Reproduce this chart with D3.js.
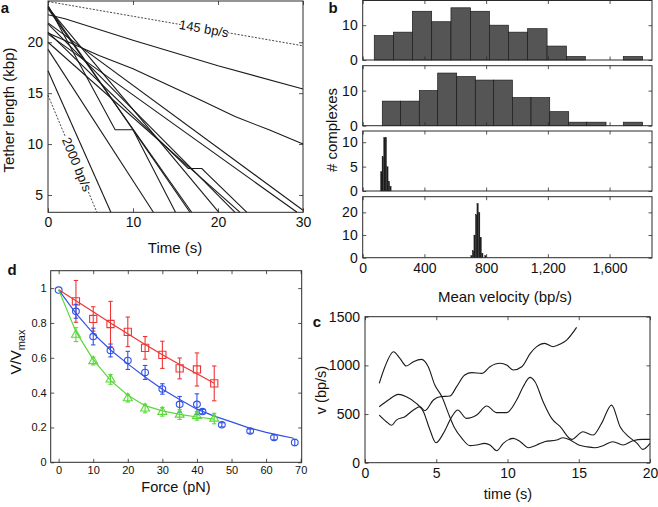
<!DOCTYPE html>
<html>
<head>
<meta charset="utf-8">
<script src="https://cdn.jsdelivr.net/npm/d3@7"></script>
<style>
body { margin: 0; background: #fff; }
svg { display: block; font-family: "Liberation Sans", Arial, sans-serif; }
</style>
</head>
<body>
<div id="fig"></div>
<script>

// ---- panel a : tether traces (time s, length kbp)
var aTimeTicks = [0, 10, 20, 30];
var aLenTicks = [5, 10, 15, 20];
var tracesA = [
    [[0, 22.7], [2, 22.3], [10, 20.2], [20, 17.7], [30, 15.4]],
    [[0, 20.9], [6, 18.7], [10, 17.4], [18, 14.3], [22, 12.7], [26, 11.4], [30, 10.0]],
    [[0, 23.5], [16.7, 3.3]],
    [[0, 23.3], [16.9, 3.3]],
    [[0, 23.6], [7.9, 11.4], [10, 11.4], [15.0, 3.3]],
    [[0, 23.4], [20.1, 3.3]],
    [[0, 19.3], [12.4, 3.3]],
    [[0, 17.2], [7.4, 3.3]],
    [[0, 21.0], [16.5, 7.6], [18.1, 7.6], [18.7, 7.1], [23.4, 3.3]],
    [[0, 21.8], [22.0, 3.3]],
    [[0, 20.0], [22.6, 3.3]],
    [[0, 20.8], [29.3, 3.3]],
    [[0, 21.9], [30, 3.5]]
];
var refLines = [
    {label: "145 bp/s", pts: [[0, 24.0], [30, 19.65]], gap: [15.6, 21.1]},
    {label: "2000 bp/s", pts: [[0, 14.8], [5.75, 3.3]], gap: [2.05, 4.75]}
];

// ---- panel b : histograms of mean velocity
var bVelTicks = [0, 400, 800, 1200, 1600];
var hist1Edges = [75, 199, 322, 447, 572, 698, 821, 944, 1069, 1195, 1320, 1443, 1566, 1689, 1814];
var hist1Counts = [7, 8, 14, 11, 15, 14, 10, 8, 9, 4, 1, 0, 0, 1];
var hist2Edges = [127, 246, 367, 486, 609, 730, 849, 970, 1091, 1212, 1335, 1452, 1577, 1689, 1814];
var hist2Counts = [7, 7, 10, 15, 14, 13, 13, 8, 8, 4, 1, 1, 0, 1];
var hist3Edges = [115, 125, 135, 145, 155, 165, 175, 185];
var hist3Counts = [4, 7, 11, 11, 5, 2, 1];
var hist4Edges = [700, 710, 720, 730, 740, 750, 760, 770, 780, 790, 800];
var hist4Counts = [1, 3, 10, 19, 24, 20, 9, 2, 0, 1];

// ---- panel d : V/Vmax vs force
var dForceTicks = [0, 10, 20, 30, 40, 50, 60, 70];
var dRatioTicks = [0, 0.2, 0.4, 0.6, 0.8, 1];
var redF = [5, 10, 15, 20, 25, 30, 35, 40, 45];
var redV = [0.924, 0.823, 0.794, 0.749, 0.657, 0.617, 0.539, 0.533, 0.453];
var redE = [0.12, 0.07, 0.13, 0.085, 0.065, 0.078, 0.06, 0.095, 0.1];
var blueF = [0, 5, 10, 15, 20, 25, 30, 35, 40, 41.6, 47.2, 55.4, 62.3, 68.3];
var blueV = [0.989, 0.867, 0.722, 0.642, 0.585, 0.516, 0.421, 0.333, 0.333, 0.291, 0.215, 0.179, 0.143, 0.114];
var blueE = [0, 0.04, 0.048, 0.037, 0.052, 0.04, 0.03, 0.045, 0.06, 0.012, 0.012, 0.012, 0.014, 0.018];
var greenF = [5, 10, 15, 20, 25, 30, 35, 40, 45];
var greenV = [0.733, 0.581, 0.476, 0.368, 0.309, 0.29, 0.274, 0.267, 0.251];
var greenE = [0.04, 0.022, 0.028, 0.022, 0.025, 0.025, 0.028, 0.025, 0.03];
var redFitF = [0, 5, 10, 15, 20, 25, 30, 35, 40, 45];
var redFitV = [0.99, 0.928, 0.864, 0.80, 0.738, 0.676, 0.617, 0.562, 0.508, 0.454];
var blueFitF = [0, 5, 10, 15, 20, 25, 30, 35, 40, 45, 50, 55, 60, 65, 68];
var blueFitV = [0.99, 0.855, 0.74, 0.645, 0.565, 0.49, 0.42, 0.36, 0.305, 0.265, 0.232, 0.198, 0.172, 0.15, 0.138];
var greenFitF = [0, 5, 10, 15, 20, 25, 30, 35, 40, 45];
var greenFitV = [0.99, 0.75, 0.59, 0.47, 0.385, 0.325, 0.295, 0.275, 0.26, 0.248];

// ---- panel c : instantaneous velocity (time s, bp/s)
var cTimeTicks = [0, 5, 10, 15, 20];
var cVelTicks = [0, 500, 1000, 1500];
var cT1 = [1.0, 1.4, 2.0, 2.45, 2.9, 3.4, 3.97, 4.44, 4.9, 5.4, 5.85, 6.3, 6.8, 7.37, 7.84, 8.4, 8.77, 9.24, 9.7, 10.4, 10.9, 11.46, 12.05, 12.6, 13.45, 13.9, 14.4, 15.0, 15.55, 16.1, 16.7, 17.4, 18.1, 18.8, 19.5, 20];
var cV1 = [815, 986, 1140, 1072, 993, 1038, 1062, 986, 798, 678, 507, 353, 250, 175, 182, 199, 182, 123, 199, 250, 216, 154, 182, 216, 233, 257, 233, 182, 164, 154, 175, 216, 182, 226, 240, 240];
var cT2 = [1.0, 1.64, 2.34, 2.9, 3.6, 4.1, 4.56, 4.98, 5.5, 6.1, 6.5, 7.13, 7.84, 8.54, 9.24, 9.94, 10.64, 11.1, 11.58, 11.93, 12.5, 13.1, 13.7, 14.5, 15.3, 16.0, 16.6, 17.3, 17.9, 18.5, 19.1, 19.5, 20];
var cV2 = [575, 644, 702, 678, 610, 524, 336, 205, 301, 473, 541, 455, 490, 582, 514, 514, 644, 781, 877, 832, 627, 455, 370, 240, 318, 284, 404, 592, 370, 267, 199, 137, 199];
var cT3 = [1.0, 1.5, 1.87, 2.2, 2.8, 3.4, 3.86, 4.2, 4.8, 5.26, 5.96, 6.43, 7.0, 7.5, 8.2, 8.77, 9.47, 9.94, 10.4, 11.0, 11.6, 12.05, 12.6, 13.2, 13.7, 14.15, 14.85];
var cV3 = [490, 421, 384, 438, 473, 541, 575, 534, 644, 678, 685, 781, 901, 925, 918, 986, 1021, 1003, 952, 986, 1123, 1192, 1226, 1192, 1219, 1260, 1390];

var W = 658, H = 507;
var ink = "#2a2a2a";

var svg = d3.select("#fig").append("svg")
    .attr("width", W)
    .attr("height", H);

// matlab style box with inward ticks on every side
function drawBox(x, y, xt, yt, opt) {
    opt = opt || {};
    var g = svg.append("g");
    var x0 = x.range()[0], x1 = x.range()[1];
    var y0 = y.range()[0], y1 = y.range()[1];
    var fs = opt.fs || 13;
    var tl = opt.tick || 4;

    var bottom = d3.axisBottom(x).tickValues(xt).tickSize(-tl).tickPadding(opt.xpad || 5)
        .tickFormat(opt.xfmt || d3.format("d"));
    if (opt.noXLabels) bottom.tickFormat("");
    g.append("g").attr("transform", "translate(0," + y0 + ")").call(bottom);
    g.append("g").attr("transform", "translate(0," + y1 + ")")
        .call(d3.axisTop(x).tickValues(xt).tickSize(-tl).tickFormat(""));

    var left = d3.axisLeft(y).tickValues(yt).tickSize(-tl).tickPadding(opt.ypad || 5)
        .tickFormat(opt.yfmt || d3.format("d"));
    g.append("g").attr("transform", "translate(" + x0 + ",0)").call(left);
    g.append("g").attr("transform", "translate(" + x1 + ",0)")
        .call(d3.axisRight(y).tickValues(yt).tickSize(-tl).tickFormat(""));

    g.selectAll(".domain").remove();
    g.selectAll(".tick line").attr("stroke", ink).attr("stroke-width", 0.8);
    g.selectAll(".tick text").attr("fill", "#111").style("font-size", fs + "px");

    svg.append("rect")
        .attr("x", x0).attr("y", y1)
        .attr("width", x1 - x0).attr("height", y0 - y1)
        .attr("fill", "none").attr("stroke", ink).attr("stroke-width", 1);
}

function label(txt, x, y, size, rot, weight) {
    var t = svg.append("text")
        .attr("transform", "translate(" + x + "," + y + ")" + (rot ? " rotate(" + rot + ")" : ""))
        .attr("text-anchor", "middle")
        .attr("fill", "#111")
        .style("font-size", size + "px")
        .text(txt);
    if (weight) t.style("font-weight", weight);
    return t;
}

// ================= panel a
var xa = d3.scaleLinear().domain([0, 30]).range([48, 303]);
var ya = d3.scaleLinear().domain([3.3, 24.05]).range([212.3, 1]);

var lineA = d3.line().x(function (d) { return xa(d[0]); }).y(function (d) { return ya(d[1]); });

svg.append("g").selectAll("path.trace")
    .data(tracesA)
    .enter()
    .append("path")
    .attr("class", "trace")
    .attr("d", lineA)
    .attr("fill", "none")
    .attr("stroke", "#1a1a1a")
    .attr("stroke-width", 1.1);

refLines.forEach(function (r) {
    var p0 = r.pts[0], p1 = r.pts[1];
    var at = function (t) { return [t, p0[1] + (p1[1] - p0[1]) * (t - p0[0]) / (p1[0] - p0[0])]; };
    [[p0, at(r.gap[0])], [at(r.gap[1]), p1]].forEach(function (seg) {
        svg.append("path")
            .attr("d", lineA(seg))
            .attr("fill", "none")
            .attr("stroke", "#333")
            .attr("stroke-width", 0.9)
            .attr("stroke-dasharray", "2,1.5");
    });
    var mid = at((r.gap[0] + r.gap[1]) / 2);
    var ang = Math.atan2(ya(p1[1]) - ya(p0[1]), xa(p1[0]) - xa(p0[0])) * 180 / Math.PI;
    svg.append("text")
        .attr("transform", "translate(" + xa(mid[0]) + "," + ya(mid[1]) + ") rotate(" + ang + ")")
        .attr("text-anchor", "middle")
        .attr("dy", "0.35em")
        .style("font-size", "13px")
        .attr("fill", "#111")
        .text(r.label);
});

drawBox(xa, ya, aTimeTicks, aLenTicks, {fs: 14});
label("Time (s)", 175, 253, 15);
label("Tether length (kbp)", 14, 110, 15, -90);
label("a", 5, 13, 15, 0, "bold");

// ================= panel b
var xb = d3.scaleLinear().domain([0, 1875]).range([362.7, 652]);
var hists = [
    {edges: hist1Edges, counts: hist1Counts, top: 0.5, bot: 60, max: 17.1, ticks: [0, 10], fill: "#555"},
    {edges: hist2Edges, counts: hist2Counts, top: 65.7, bot: 125.7, max: 17.1, ticks: [0, 10], fill: "#555"},
    {edges: hist3Edges, counts: hist3Counts, top: 131, bot: 191, max: 12.3, ticks: [0, 5, 10], fill: "#1e1e1e"},
    {edges: hist4Edges, counts: hist4Counts, top: 196.7, bot: 257.7, max: 26.9, ticks: [0, 10, 20], fill: "#1e1e1e"}
];

hists.forEach(function (h, k) {
    var yh = d3.scaleLinear().domain([0, h.max]).range([h.bot, h.top]);
    svg.append("g").selectAll("rect")
        .data(h.counts)
        .enter()
        .append("rect")
        .attr("x", function (d, i) { return xb(h.edges[i]); })
        .attr("width", function (d, i) { return xb(h.edges[i + 1]) - xb(h.edges[i]); })
        .attr("y", function (d) { return yh(d); })
        .attr("height", function (d) { return yh(0) - yh(d); })
        .attr("fill", h.fill)
        .attr("stroke", "#1a1a1a")
        .attr("stroke-width", k < 2 ? 0.7 : 0.2);
    drawBox(xb, yh, bVelTicks, h.ticks, {
        fs: 14,
        noXLabels: k < 3,
        xfmt: d3.format(","),
        tick: 3.5
    });
});
label("# complexes", 337, 130, 15, -90);
label("Mean velocity (bp/s)", 505, 302, 15);
label("b", 333, 13, 15, 0, "bold");

// ================= panel d
var xd = d3.scaleLinear().domain([-2.3, 70.3]).range([50.7, 301.7]);
var yd = d3.scaleLinear().domain([0, 1.1]).range([462.3, 270.7]);

var series = [
    {F: redF, V: redV, E: redE, fitF: redFitF, fitV: redFitV, color: "#ee3535", shape: "square"},
    {F: blueF, V: blueV, E: blueE, fitF: blueFitF, fitV: blueFitV, color: "#3152e6", shape: "circle"},
    {F: greenF, V: greenV, E: greenE, fitF: greenFitF, fitV: greenFitV, color: "#5ad83a", shape: "triangle"}
];

var lineD = d3.line().x(function (d) { return xd(d[0]); }).y(function (d) { return yd(d[1]); });

series.forEach(function (s) {
    var g = svg.append("g");
    g.append("path")
        .attr("d", lineD(s.fitF.map(function (f, i) { return [f, s.fitV[i]]; })))
        .attr("fill", "none")
        .attr("stroke", s.color)
        .attr("stroke-width", 1.2);

    var pts = s.F.map(function (f, i) { return {f: f, v: s.V[i], e: s.E[i]}; });

    var eb = g.selectAll("g.eb").data(pts.filter(function (p) { return p.e > 0; }))
        .enter().append("g").attr("class", "eb")
        .attr("stroke", s.color).attr("stroke-width", 1.1);
    eb.append("line")
        .attr("x1", function (p) { return xd(p.f); }).attr("x2", function (p) { return xd(p.f); })
        .attr("y1", function (p) { return yd(p.v - p.e); }).attr("y2", function (p) { return yd(p.v + p.e); });
    eb.append("line")
        .attr("x1", function (p) { return xd(p.f) - 2.2; }).attr("x2", function (p) { return xd(p.f) + 2.2; })
        .attr("y1", function (p) { return yd(p.v + p.e); }).attr("y2", function (p) { return yd(p.v + p.e); });
    eb.append("line")
        .attr("x1", function (p) { return xd(p.f) - 2.2; }).attr("x2", function (p) { return xd(p.f) + 2.2; })
        .attr("y1", function (p) { return yd(p.v - p.e); }).attr("y2", function (p) { return yd(p.v - p.e); });

    var sym = s.shape === "square" ? d3.symbolSquare : (s.shape === "triangle" ? d3.symbolTriangle : null);
    var mk = g.selectAll("path.mk").data(pts).enter();
    if (sym) {
        mk.append("path")
            .attr("class", "mk")
            .attr("d", d3.symbol().type(sym).size(s.shape === "square" ? 52 : 34))
            .attr("transform", function (p) { return "translate(" + xd(p.f) + "," + yd(p.v) + ")"; })
            .attr("fill", "none")
            .attr("stroke", s.color)
            .attr("stroke-width", 1.1);
    } else {
        mk.append("ellipse")
            .attr("class", "mk")
            .attr("cx", function (p) { return xd(p.f); })
            .attr("cy", function (p) { return yd(p.v); })
            .attr("rx", 3.4).attr("ry", 3.2)
            .attr("fill", "none")
            .attr("stroke", s.color)
            .attr("stroke-width", 1.1);
    }
});

drawBox(xd, yd, dForceTicks, dRatioTicks, {
    fs: 11, tick: 3.5, xpad: 4, ypad: 4,
    yfmt: function (d) { return (d === 0 || d === 1) ? String(d) : d.toFixed(1); }
});
label("Force (pN)", 176, 492, 14.5);
var vl = label("V/V", 21, 352, 15, -90);
vl.append("tspan").attr("dy", 4).style("font-size", "11px").text("max");
label("d", 12, 275, 15, 0, "bold");

// ================= panel c
var xc = d3.scaleLinear().domain([0, 20]).range([365, 650]);
var yc = d3.scaleLinear().domain([0, 1500]).range([462.7, 316.7]);
var lineC = d3.line().curve(d3.curveMonotoneX)
    .x(function (d) { return xc(d[0]); }).y(function (d) { return yc(d[1]); });

[[cT1, cV1], [cT2, cV2], [cT3, cV3]].forEach(function (c) {
    svg.append("path")
        .attr("d", lineC(c[0].map(function (t, i) { return [t, c[1][i]]; })))
        .attr("fill", "none")
        .attr("stroke", "#1a1a1a")
        .attr("stroke-width", 1.1);
});

drawBox(xc, yc, cTimeTicks, cVelTicks, {fs: 14, tick: 3.5});
label("time (s)", 508, 499, 14.5);
label("v (bp/s)", 326, 390, 14.5, -90);
label("c", 317, 327, 15, 0, "bold");

</script>
</body>
</html>
